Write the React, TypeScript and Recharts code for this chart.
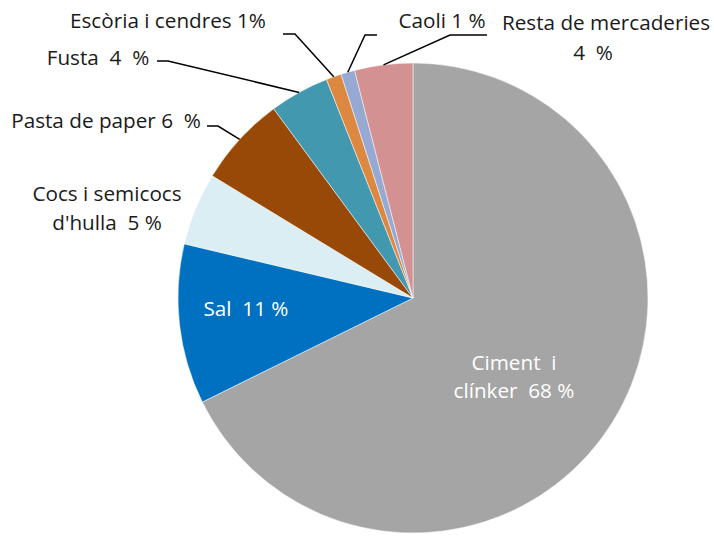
import React from "react";
import { PieChart, Pie, Cell } from "recharts";

const categories = [
  "Ciment i clínker",
  "Sal",
  "Cocs i semicocs d'hulla",
  "Pasta de paper",
  "Fusta",
  "Escòria i cendres",
  "Caoli",
  "Resta de mercaderies",
];
const values = [67.7, 11.0, 5.0, 6.2, 4.1, 1.05, 0.95, 4.0];
const labelLines: string[][] = [
  ["Ciment  i", "clínker  68 %"],
  ["Sal  11 %"],
  ["Cocs i semicocs", "d'hulla  5 %"],
  ["Pasta de paper 6  %"],
  ["Fusta  4  %"],
  ["Escòria i cendres 1%"],
  ["Caoli 1 %"],
  ["Resta de mercaderies", "4  %"],
];
const colors = ["#A5A5A5", "#0070C0", "#DAEEF3", "#984807", "#4298AE", "#DD8841", "#95A9D3", "#D39192"];

const data = categories.map((name, i) => ({ name, value: values[i] }));

// label layout relative to the pie centre: text centre, optional leader elbow and end
type Layout = { dx: number; dy: number; lh: number; white?: boolean; elbow?: [number, number]; end?: [number, number]; lineDx?: number[] };
const layouts: Layout[] = [
  { dx: 101, dy: 64, lh: 28, white: true },
  { dx: -167, dy: 10, lh: 28, white: true },
  { dx: -306, dy: -105, lh: 29 },
  { dx: -307, dy: -178, lh: 28, elbow: [-195, -172], end: [-206, -172] },
  { dx: -315, dy: -241, lh: 28, elbow: [-245, -237], end: [-256, -237] },
  { dx: -245, dy: -278, lh: 28, elbow: [-118, -264], end: [-130, -264] },
  { dx: 29, dy: -278, lh: 28, elbow: [-48, -263], end: [-36, -263] },
  { dx: 193, dy: -276, lh: 30, elbow: [37, -263], end: [74, -263], lineDx: [0, -13] },
];

const RAD = Math.PI / 180;
const keepSpaces = (s: string) => s.replace(/ {2}/g, "\u00A0 ");

const renderLabel = (props: any) => {
  const { cx, cy, midAngle, outerRadius, index } = props;
  const L = layouts[index];
  const lines = labelLines[index];
  const fill = L.white ? "#ffffff" : "#1a1a1a";
  const ex = cx + outerRadius * Math.cos(-midAngle * RAD);
  const ey = cy + outerRadius * Math.sin(-midAngle * RAD);
  return (
    <g key={`lbl-${index}`}>
      {L.elbow && L.end && (
        <polyline
          points={`${ex},${ey} ${cx + L.elbow[0]},${cy + L.elbow[1]} ${cx + L.end[0]},${cy + L.end[1]}`}
          fill="none"
          stroke="#000"
          strokeWidth={1.5}
        />
      )}
      {lines.map((t, k) => (
        <text
          key={k}
          x={cx + L.dx + (L.lineDx ? L.lineDx[k] : 0)}
          y={cy + L.dy + k * L.lh}
          textAnchor="middle"
          dominantBaseline="central"
          fill={fill}
          fontFamily="'Open Sans', sans-serif"
          fontSize={20.7}
        >
          {keepSpaces(t)}
        </text>
      ))}
    </g>
  );
};

export default function App() {
  return (
    <div style={{ position: "absolute", left: 0, top: 0, width: 714, height: 536, background: "#fff" }}>
      <PieChart width={714} height={536} margin={{ top: 0, right: 0, bottom: 0, left: 0 }}>
        <Pie
          data={data}
          dataKey="value"
          nameKey="name"
          cx={413}
          cy={298}
          outerRadius={235}
          startAngle={90}
          endAngle={-270}
          stroke="#ffffff"
          strokeWidth={0.5}
          isAnimationActive={false}
          label={renderLabel}
          labelLine={false}
        >
          {data.map((d, i) => (
            <Cell key={d.name} fill={colors[i]} />
          ))}
        </Pie>
      </PieChart>
    </div>
  );
}
